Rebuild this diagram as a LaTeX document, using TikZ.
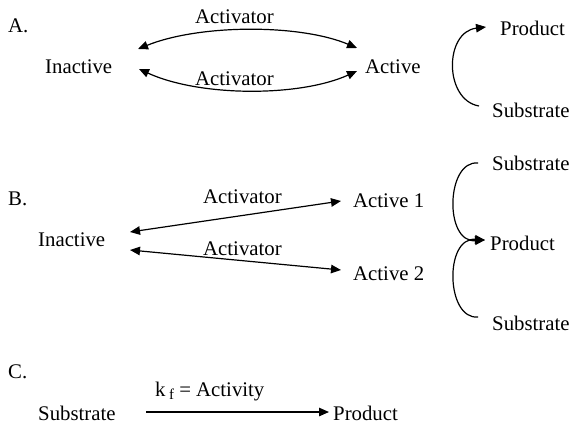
\documentclass[tikz,border=0pt]{standalone}
\usepackage{fontspec}
\setmainfont{Liberation Serif}
\usetikzlibrary{arrows.meta}
\begin{document}
\begin{tikzpicture}[x=1pt,y=-1pt,
  lbl/.style={inner sep=0pt,anchor=base west,font=\fontsize{20.8}{24}\selectfont},
  conn/.style={line width=1.2pt,-{Triangle[length=10pt,width=8.5pt]}},
  dconn/.style={line width=1.2pt,{Triangle[length=10pt,width=8.5pt]}-{Triangle[length=10pt,width=8.5pt]}}]
\useasboundingbox (0,0) rectangle (572,428);

% ---- A: single active form ----
\node[lbl] (lA) at (8,33) {A.};
\node[lbl] (inA) at (45,74) {Inactive};
\node[lbl] (acA) at (365,74) {Active};
\node[lbl] (actA1) at (195,24) {Activator};
\node[lbl] (actA2) at (195,85) {Activator};
\node[lbl] (prA) at (500,36) {Product};
\node[lbl] (suA) at (492,117) {Substrate};
\coordinate (a1l) at (138,49);
\coordinate (a1r) at (357,48);
\coordinate (a2l) at (139,69);
\coordinate (a2r) at (357,71);
\draw[dconn] (a1l) .. controls (200,24) and (300,24) .. (a1r);
\draw[dconn] (a2l) .. controls (200,97) and (300,97) .. (a2r);
\coordinate (sA) at (479,106);
\coordinate (pA) at (486,27);
\draw[conn] (sA) .. controls (444,100) and (444,32) .. (pA);

% ---- B: two active forms ----
\node[lbl] (lB) at (8,205) {B.};
\node[lbl] (inB) at (38,246) {Inactive};
\node[lbl] (ac1) at (353,207) {Active 1};
\node[lbl] (ac2) at (353,280) {Active 2};
\node[lbl] (actB1) at (203,203) {Activator};
\node[lbl] (actB2) at (203,255) {Activator};
\coordinate (b1l) at (130,232);
\coordinate (b1r) at (341,201);
\coordinate (b2l) at (130,250);
\coordinate (b2r) at (341,270);
\draw[dconn] (b1l) -- (b1r);
\draw[dconn] (b2l) -- (b2r);
\node[lbl] (suB1) at (492,170) {Substrate};
\node[lbl] (prB) at (490,250) {Product};
\node[lbl] (suB2) at (492,330) {Substrate};
\coordinate (sB1) at (478,163);
\coordinate (sB2) at (478,317);
\coordinate (pB) at (485,240);
\draw[conn] (sB1) .. controls (446,160) and (444,243) .. (pB);
\draw[conn] (sB2) .. controls (446,320) and (444,237) .. (pB);

% ---- C: rate ----
\node[lbl] (lC) at (8,378) {C.};
\node[lbl] (suC) at (38,420) {Substrate};
\node[lbl] (prC) at (333,420) {Product};
\node[lbl] (kf) at (155,396) {k\,\raisebox{-0.4ex}{\fontsize{15}{15}\selectfont f}\ = Activity};
\coordinate (cl) at (146,412);
\coordinate (cr) at (329,412);
\draw[conn] (cl) -- (cr);
\end{tikzpicture}
\end{document}
